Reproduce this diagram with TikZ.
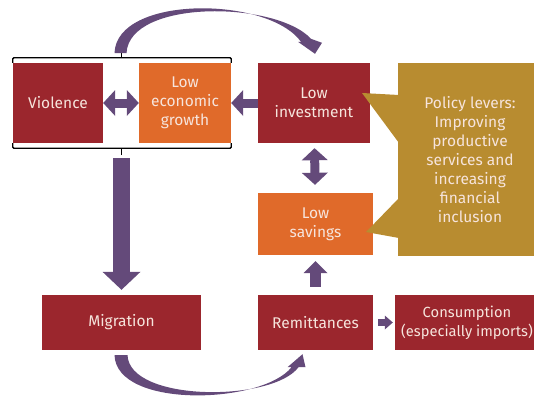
\documentclass[tikz,border=0pt]{standalone}
\usepackage{fontspec}
\setmainfont{Fira Sans}
\usepackage{xcolor}
\usetikzlibrary{arrows.meta,positioning,calc}

\definecolor{wine}{HTML}{9B262D}
\definecolor{rust}{HTML}{E06A2A}
\definecolor{ochre}{HTML}{B88C30}
\definecolor{plum}{HTML}{644A7A}
\definecolor{cream}{HTML}{F6E4DC}

\begin{document}
\begin{tikzpicture}[
    x=1pt, y=-1pt,
    box/.style={inner sep=0pt, align=center, text=cream, font=\fontsize{15.5}{19}\selectfont},
    redbox/.style={box, fill=wine},
    orangebox/.style={box, fill=rust},
    fat/.style={draw=plum, line width=9pt, -{Triangle[width=26pt,length=12pt,line width=0pt]}},
    fatboth/.style={draw=plum, line width=9pt, {Triangle[width=26pt,length=12pt,line width=0pt]}-{Triangle[width=26pt,length=12pt,line width=0pt]}},
    brace/.style={draw=black, line width=1.3pt, rounded corners=1pt}
]
\useasboundingbox (0,0) rectangle (534,399);

% --- boxes ---
\node[redbox, minimum width=90pt, minimum height=80pt] (violence) at (58,103) {Violence};
\node[orangebox, minimum width=92pt, minimum height=80pt] (growth) at (185,103) {Low\\economic\\growth};
\node[redbox, minimum width=112pt, minimum height=80pt] (invest) at (314,103) {Low\\investment};
\node[orangebox, minimum width=115pt, minimum height=62pt] (savings) at (315.5,224) {Low\\savings};
\node[box, fill=ochre, minimum width=144pt, minimum height=193pt] (levers) at (470,159.5) {Policy levers:\\Improving\\productive\\services and\\increasing\\financial\\inclusion};
\node[redbox, minimum width=159pt, minimum height=55pt] (migration) at (121.5,322.5) {Migration};
\node[redbox, minimum width=115pt, minimum height=55pt] (remit) at (315.5,322.5) {Remittances};
\node[redbox, minimum width=144pt, minimum height=55pt, font=\fontsize{14.7}{19}\selectfont] (consum) at (467,322.5) {Consumption\\(especially imports)};

% callout pointers
\fill[ochre] (362,93) -- (399,95) -- (399,143) -- cycle;
\fill[ochre] (366,232) -- (399,198) -- (399,238) -- cycle;

% --- bracket round violence and growth ---
\coordinate (brtop) at (121.5,53);
\coordinate (brbot) at (121.5,155);
\draw[brace] (violence.north west) -- ++(0,-5) -| (growth.north east);
\draw[brace] (violence.south west) -- ++(0,5) -| (growth.south east);
\draw[brace] (brtop) -- ++(0,5);
\draw[brace] (brbot) -- ++(0,-7);

% --- straight arrows ---
\draw[fatboth] (violence) -- (growth);
\draw[fat] (invest) -- (growth);
\draw[fatboth, shorten <=5pt, shorten >=8pt] (invest) -- (savings);
\draw[fat, line width=11pt, -{Triangle[width=24pt,length=12pt,line width=0pt]}, shorten <=8pt, shorten >=6pt] (remit) -- (savings);
\draw[fat, line width=7pt, -{Triangle[width=14pt,length=8pt,line width=0pt]}, shorten <=5pt, shorten >=2pt] (remit) -- (consum);
\draw[fat, line width=17pt, -{Triangle[width=38pt,length=18pt,line width=0pt]}, shorten <=3pt, shorten >=5pt] (brbot) -- (brbot |- migration.north);

% --- curved arrows ---
\fill[plum] ($(brtop)+(-7,0)$) .. controls +(2,-58) and +(-33,-46) .. ($(invest.north)+(-13,-21)$)
    -- ++(-3,0) -- ($(invest.north)+(1,-9)$) -- ++(7,-11) -- ++(-11,-4)
    .. controls +(-35,-38) and +(3,-54) .. ($(brtop)+(5,0)$) -- cycle;
\fill[plum] ($(migration.south)+(-7,5)$) .. controls +(2,54) and +(-29,37) .. ($(remit.south)+(-24,17)$)
    -- ++(-4,0) -- ($(remit.south)+(-13,4)$) -- ++(3,13) -- ++(-7,0)
    .. controls +(-26,35) and +(2,47) .. ($(migration.south)+(6,5)$) -- cycle;

\end{tikzpicture}
\end{document}
